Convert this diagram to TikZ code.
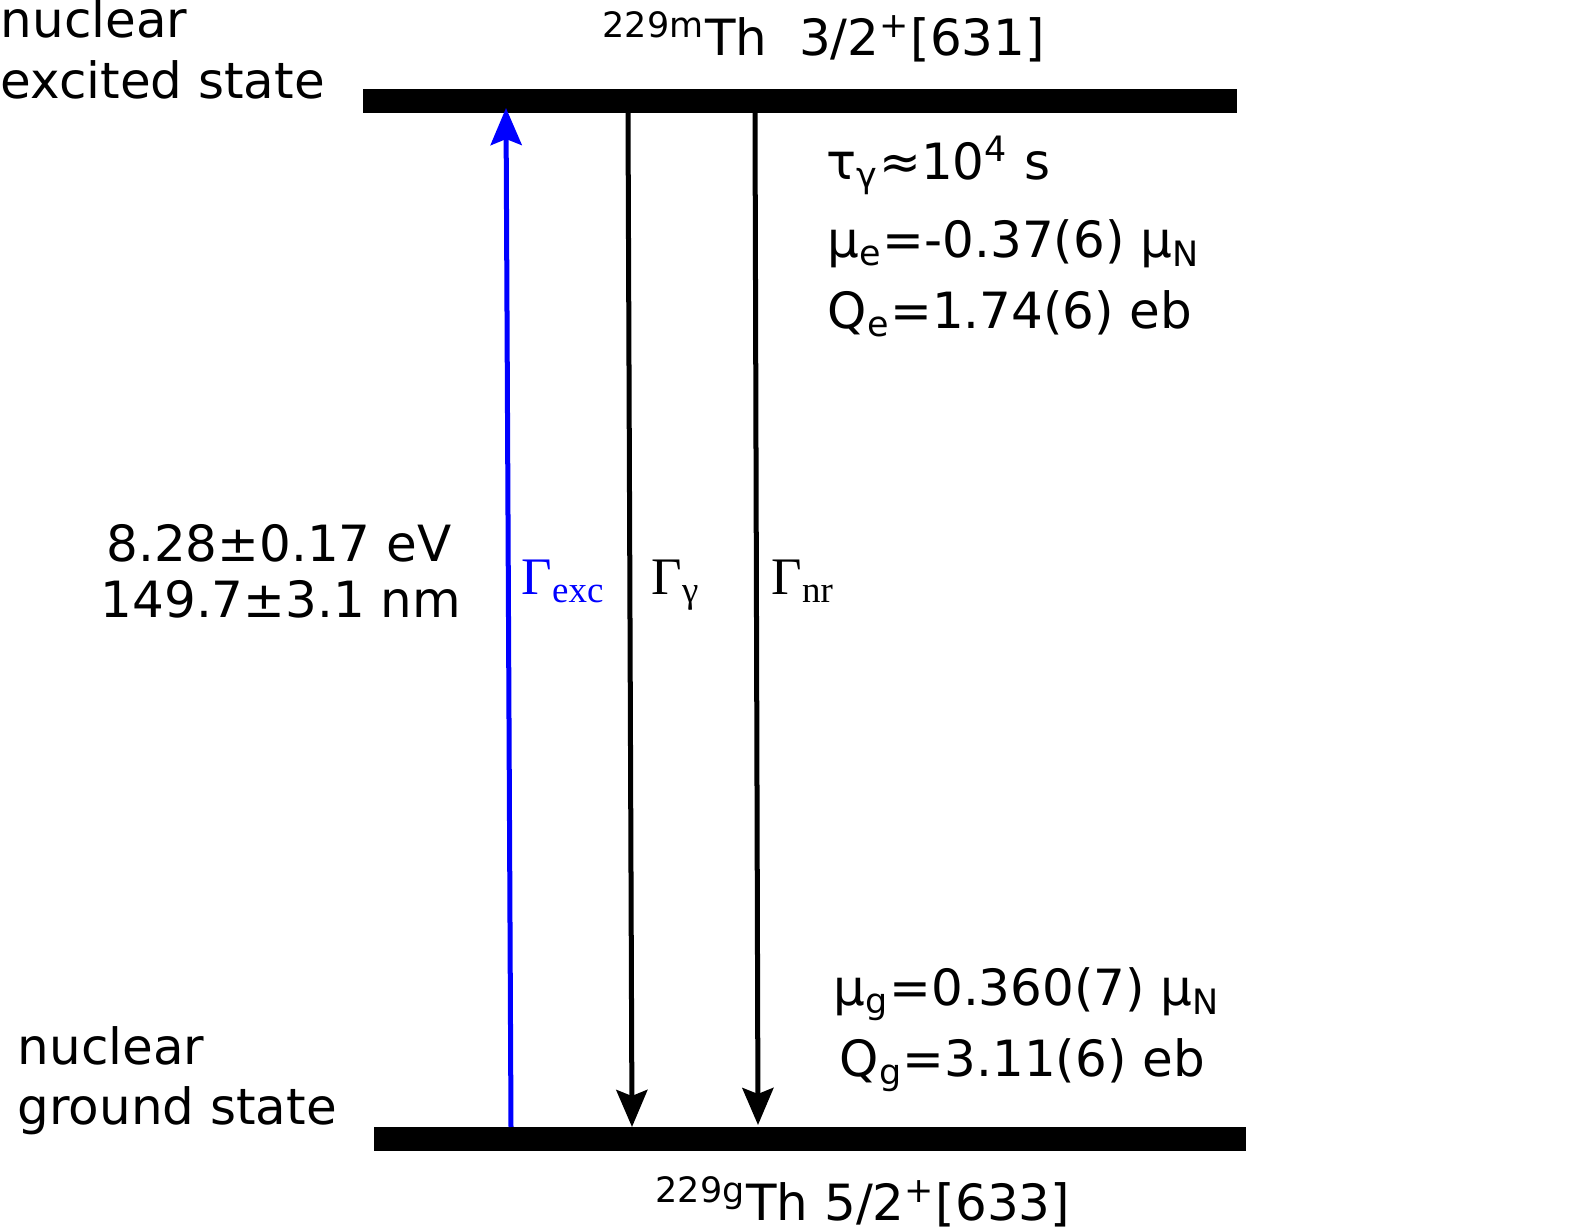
\documentclass[tikz,border=0pt]{standalone}
\usepackage{fontspec}
\setmainfont{DejaVu Sans}
\newfontfamily\ratefont{Liberation Serif}
\usetikzlibrary{arrows.meta}

\tikzset{
  level/.style={line width=0.24cm},
  trans/.style={line width=0.05cm, -{Stealth[length=0.37cm,width=0.31cm,inset=0.06cm]}},
  lbl/.style={inner sep=0pt, anchor=base west, font=\fontsize{14.2}{17}\selectfont},
  energy/.style={inner sep=0pt, anchor=base, font=\fontsize{14.2}{17}\selectfont},
  rate/.style={inner sep=0pt, anchor=base west, font=\ratefont\fontsize{15}{18}\selectfont},
}

\begin{document}
\begin{tikzpicture}[x=0.01cm,y=-0.01cm]
\useasboundingbox (0,0) rectangle (1581,1228);

% levels
\coordinate (ex-l) at (363,101);
\coordinate (ex-r) at (1237,101);
\coordinate (gr-l) at (374,1139);
\coordinate (gr-r) at (1246,1139);
\draw[level] (ex-l) -- (ex-r);
\draw[level] (gr-l) -- (gr-r);

% transitions
\coordinate (exc-a) at (511,1127);
\coordinate (exc-b) at (506,108);
\coordinate (gam-a) at (628,113);
\coordinate (gam-b) at (632,1127);
\coordinate (nr-a) at (755,113);
\coordinate (nr-b) at (758,1125);
\draw[trans,blue] (exc-a) -- (exc-b);
\draw[trans] (gam-a) -- (gam-b);
\draw[trans] (nr-a) -- (nr-b);

\node[rate,text=blue] (exc) at (521,595) {Γ\textsubscript{exc}};
\node[rate] (gam) at (651,595) {Γ\textsubscript{γ}};
\node[rate] (nr) at (771,595) {Γ\textsubscript{nr}};

% state labels
\node[lbl] (ex1) at (0,38) {nuclear};
\node[lbl] (ex2) at (0,99) {excited state};
\node[lbl] (gr1) at (17,1065) {nuclear};
\node[lbl] (gr2) at (17,1125) {ground state};
\node[lbl] (thm) at (602,56) {\textsuperscript{229m}Th\ \ 3/2\textsuperscript{+}[631]};
\node[lbl] (thg) at (655,1221) {\textsuperscript{229g}Th 5/2\textsuperscript{+}[633]};

% energy
\node[energy] (en1) at (279,562) {8.28±0.17 eV};
\node[energy] (en2) at (281,618) {149.7±3.1 nm};

% moments
\node[lbl] (tau) at (826,180) {τ\textsubscript{γ}≈10\textsuperscript{4} s};
\node[lbl] (mue) at (827,258) {μ\textsubscript{e}=-0.37(6) μ\textsubscript{N}};
\node[lbl] (qe) at (827,329) {Q\textsubscript{e}=1.74(6) eb};
\node[lbl] (mug) at (833,1006) {μ\textsubscript{g}=0.360(7) μ\textsubscript{N}};
\node[lbl] (qg) at (839,1077) {Q\textsubscript{g}=3.11(6) eb};
\end{tikzpicture}
\end{document}
